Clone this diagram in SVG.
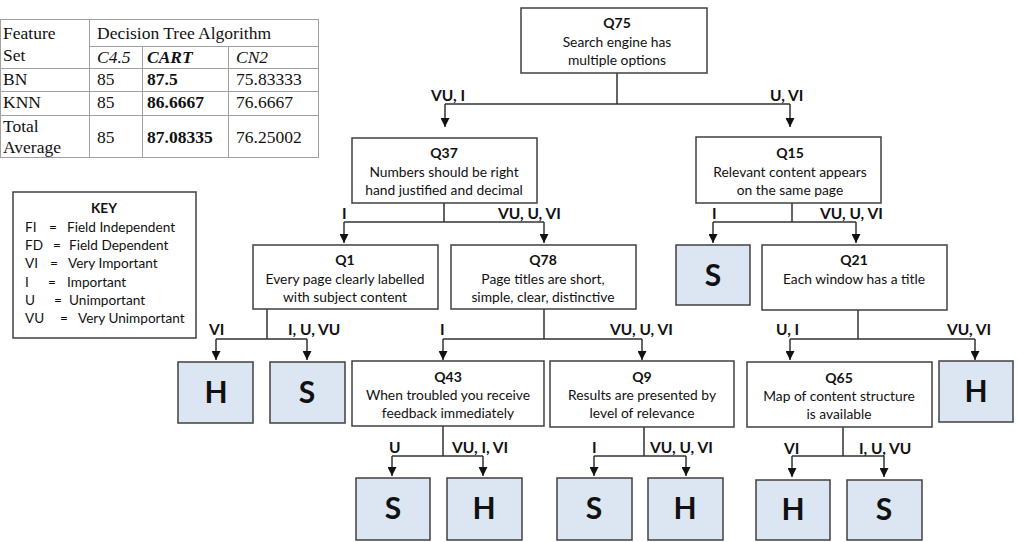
<svg xmlns="http://www.w3.org/2000/svg" width="1018" height="542" viewBox="0 0 1018 542">
<style>
.tb{fill:none;stroke:#a0a0a0;stroke-width:1}
.tt{font-family:"Liberation Serif",serif;font-size:17.5px;fill:#111}
.it{font-style:italic}
.bd{font-weight:bold}
.box{fill:#fff;stroke:#404040;stroke-width:1.5}
.leaf{fill:#dce6f2;stroke:#404040;stroke-width:1.5}
.q{font-family:Lato,"Liberation Sans",sans-serif;font-size:14px;font-weight:bold;fill:#111;text-anchor:middle}
.d{font-family:Lato,"Liberation Sans",sans-serif;font-size:13.8px;fill:#111;text-anchor:middle}
.lt{font-family:Lato,"Liberation Sans",sans-serif;font-size:30px;font-weight:bold;fill:#111;text-anchor:middle}
.lb{font-family:Lato,"Liberation Sans",sans-serif;font-size:15.5px;font-weight:bold;fill:#111}
.k{font-family:Lato,"Liberation Sans",sans-serif;font-size:13.6px;fill:#111}
.c{fill:none;stroke:#333;stroke-width:1.5}
</style>
<defs>
<marker id="ah" markerWidth="9" markerHeight="9" refX="9" refY="4.5" orient="auto" markerUnits="userSpaceOnUse" viewBox="0 0 9 9">
<path d="M0,0 L9,4.5 L0,9 Z" fill="#111"/>
</marker>
</defs>
<rect width="1018" height="542" fill="#fff"/>

<g id="table">
<rect class="tb" x="0.5" y="19.5" width="318" height="138"/>
<line class="tb" x1="89.5" y1="19.5" x2="89.5" y2="157.5"/>
<line class="tb" x1="89.5" y1="46.5" x2="318.5" y2="46.5"/>
<line class="tb" x1="0.5" y1="68.5" x2="318.5" y2="68.5"/>
<line class="tb" x1="0.5" y1="91.5" x2="318.5" y2="91.5"/>
<line class="tb" x1="0.5" y1="115.5" x2="318.5" y2="115.5"/>
<line class="tb" x1="142.5" y1="46.5" x2="142.5" y2="157.5"/>
<line class="tb" x1="228.5" y1="46.5" x2="228.5" y2="157.5"/>
<text class="tt" x="3" y="39">Feature</text>
<text class="tt" x="3" y="61">Set</text>
<text class="tt" x="97" y="39">Decision Tree Algorithm</text>
<text class="tt it" x="97" y="63">C4.5</text>
<text class="tt it bd" x="147" y="63">CART</text>
<text class="tt it" x="236" y="63">CN2</text>
<text class="tt" x="3" y="85">BN</text>
<text class="tt" x="97" y="85">85</text>
<text class="tt bd" x="147" y="85">87.5</text>
<text class="tt" x="236" y="85">75.83333</text>
<text class="tt" x="3" y="108">KNN</text>
<text class="tt" x="97" y="108">85</text>
<text class="tt bd" x="147" y="108">86.6667</text>
<text class="tt" x="236" y="108">76.6667</text>
<text class="tt" x="3" y="132">Total</text>
<text class="tt" x="3" y="153">Average</text>
<text class="tt" x="97" y="143">85</text>
<text class="tt bd" x="147" y="143">87.08335</text>
<text class="tt" x="236" y="143">76.25002</text>
</g>

<g id="key">
<rect x="13" y="192" width="183" height="146" fill="#fff" stroke="#404040" stroke-width="1.5"/>
<text class="k bd" x="104" y="213" text-anchor="middle" font-weight="bold">KEY</text>
<text class="k" x="25" y="232">FI</text><text class="k" x="49" y="232">=</text><text class="k" x="67" y="232">Field Independent</text>
<text class="k" x="25" y="250">FD</text><text class="k" x="53" y="250">=</text><text class="k" x="69" y="250">Field Dependent</text>
<text class="k" x="25" y="268">VI</text><text class="k" x="50" y="268">=</text><text class="k" x="68" y="268">Very Important</text>
<text class="k" x="25" y="287">I</text><text class="k" x="48" y="287">=</text><text class="k" x="67" y="287">Important</text>
<text class="k" x="25" y="305">U</text><text class="k" x="54" y="305">=</text><text class="k" x="69" y="305">Unimportant</text>
<text class="k" x="25" y="323">VU</text><text class="k" x="60" y="323">=</text><text class="k" x="78" y="323">Very Unimportant</text>
</g>

<g id="connectors">
<path class="c" d="M617,73 V104 M445,104 H790"/>
<path class="c" d="M445,104 V127" marker-end="url(#ah)"/>
<path class="c" d="M790,104 V127" marker-end="url(#ah)"/>
<path class="c" d="M444,193 V222 M344,222 H544"/>
<path class="c" d="M344,222 V243" marker-end="url(#ah)"/>
<path class="c" d="M544,222 V243" marker-end="url(#ah)"/>
<path class="c" d="M792,193 V222 M713,222 H856"/>
<path class="c" d="M713,222 V243" marker-end="url(#ah)"/>
<path class="c" d="M856,222 V243" marker-end="url(#ah)"/>
<path class="c" d="M267,309 V339 M216,339 H307"/>
<path class="c" d="M216,339 V360" marker-end="url(#ah)"/>
<path class="c" d="M307,339 V360" marker-end="url(#ah)"/>
<path class="c" d="M544,309 V339 M443,339 H642"/>
<path class="c" d="M443,339 V360" marker-end="url(#ah)"/>
<path class="c" d="M642,339 V360" marker-end="url(#ah)"/>
<path class="c" d="M858,310 V339 M790,339 H975"/>
<path class="c" d="M790,339 V360" marker-end="url(#ah)"/>
<path class="c" d="M975,339 V360" marker-end="url(#ah)"/>
<path class="c" d="M443,426 V456 M392,456 H483"/>
<path class="c" d="M392,456 V476" marker-end="url(#ah)"/>
<path class="c" d="M483,456 V476" marker-end="url(#ah)"/>
<path class="c" d="M644,427 V456 M594,456 H686"/>
<path class="c" d="M594,456 V476" marker-end="url(#ah)"/>
<path class="c" d="M686,456 V476" marker-end="url(#ah)"/>
<path class="c" d="M843,427 V456 M792,456 H884"/>
<path class="c" d="M792,456 V477" marker-end="url(#ah)"/>
<path class="c" d="M884,456 V477" marker-end="url(#ah)"/>
<text class="lb" x="431" y="101">VU, I</text>
<text class="lb" x="770" y="101">U, VI</text>
<text class="lb" x="342" y="219">I</text>
<text class="lb" x="498" y="219">VU, U, VI</text>
<text class="lb" x="712" y="219">I</text>
<text class="lb" x="820" y="219">VU, U, VI</text>
<text class="lb" x="209" y="335">VI</text>
<text class="lb" x="288" y="335">I, U, VU</text>
<text class="lb" x="440" y="335">I</text>
<text class="lb" x="610" y="335">VU, U, VI</text>
<text class="lb" x="776" y="335">U, I</text>
<text class="lb" x="947" y="335">VU, VI</text>
<text class="lb" x="389" y="453">U</text>
<text class="lb" x="452" y="453">VU, I, VI</text>
<text class="lb" x="592" y="453">I</text>
<text class="lb" x="650" y="453">VU, U, VI</text>
<text class="lb" x="784" y="454">VI</text>
<text class="lb" x="859" y="454">I, U, VU</text>
</g>

<g id="Q75">
<rect class="box" x="521" y="8" width="186" height="65"/>
<text class="q" x="617" y="28">Q75</text>
<text class="d" x="617" y="47">Search engine has</text>
<text class="d" x="617" y="65">multiple options</text>
</g>
<g id="Q37">
<rect class="box" x="352" y="138" width="185" height="65"/>
<text class="q" x="444" y="158">Q37</text>
<text class="d" x="444" y="177">Numbers should be right</text>
<text class="d" x="444" y="195">hand justified and decimal</text>
</g>
<g id="Q15">
<rect class="box" x="696" y="137" width="185" height="66"/>
<text class="q" x="790" y="158">Q15</text>
<text class="d" x="790" y="177">Relevant content appears</text>
<text class="d" x="790" y="195">on the same page</text>
</g>
<g id="Q1">
<rect class="box" x="253" y="245" width="185" height="64"/>
<text class="q" x="345" y="265">Q1</text>
<text class="d" x="345" y="284">Every page clearly labelled</text>
<text class="d" x="345" y="302">with subject content</text>
</g>
<g id="Q78">
<rect class="box" x="451" y="245" width="185" height="64"/>
<text class="q" x="543" y="265">Q78</text>
<text class="d" x="543" y="284">Page titles are short,</text>
<text class="d" x="543" y="302">simple, clear, distinctive</text>
</g>
<g id="S1">
<rect class="leaf" x="676" y="245" width="74" height="60"/>
<text class="lt" x="713" y="286">S</text>
</g>
<g id="Q21">
<rect class="box" x="762" y="245" width="185" height="65"/>
<text class="q" x="854" y="265">Q21</text>
<text class="d" x="854" y="284">Each window has a title</text>
</g>
<g id="H1">
<rect class="leaf" x="178" y="362" width="75" height="61"/>
<text class="lt" x="216" y="403">H</text>
</g>
<g id="S2">
<rect class="leaf" x="270" y="362" width="75" height="61"/>
<text class="lt" x="307" y="403">S</text>
</g>
<g id="Q43">
<rect class="box" x="352" y="361" width="192" height="65"/>
<text class="q" x="448" y="382">Q43</text>
<text class="d" x="448" y="400">When troubled you receive</text>
<text class="d" x="448" y="418">feedback immediately</text>
</g>
<g id="Q9">
<rect class="box" x="550" y="361" width="184" height="66"/>
<text class="q" x="642" y="382">Q9</text>
<text class="d" x="642" y="400">Results are presented by</text>
<text class="d" x="642" y="418">level of relevance</text>
</g>
<g id="Q65">
<rect class="box" x="747" y="362" width="185" height="65"/>
<text class="q" x="839" y="383">Q65</text>
<text class="d" x="839" y="401">Map of content structure</text>
<text class="d" x="839" y="419">is available</text>
</g>
<g id="H2">
<rect class="leaf" x="939" y="361" width="74" height="61"/>
<text class="lt" x="976" y="402">H</text>
</g>
<g id="S3">
<rect class="leaf" x="356" y="478" width="74" height="62"/>
<text class="lt" x="393" y="519">S</text>
</g>
<g id="H3">
<rect class="leaf" x="447" y="478" width="75" height="62"/>
<text class="lt" x="484" y="519">H</text>
</g>
<g id="S4">
<rect class="leaf" x="557" y="478" width="75" height="62"/>
<text class="lt" x="594" y="519">S</text>
</g>
<g id="H4">
<rect class="leaf" x="648" y="478" width="75" height="62"/>
<text class="lt" x="685" y="519">H</text>
</g>
<g id="H5">
<rect class="leaf" x="756" y="480" width="74" height="60"/>
<text class="lt" x="793" y="520">H</text>
</g>
<g id="S5">
<rect class="leaf" x="847" y="480" width="75" height="60"/>
<text class="lt" x="884" y="520">S</text>
</g>
</svg>
